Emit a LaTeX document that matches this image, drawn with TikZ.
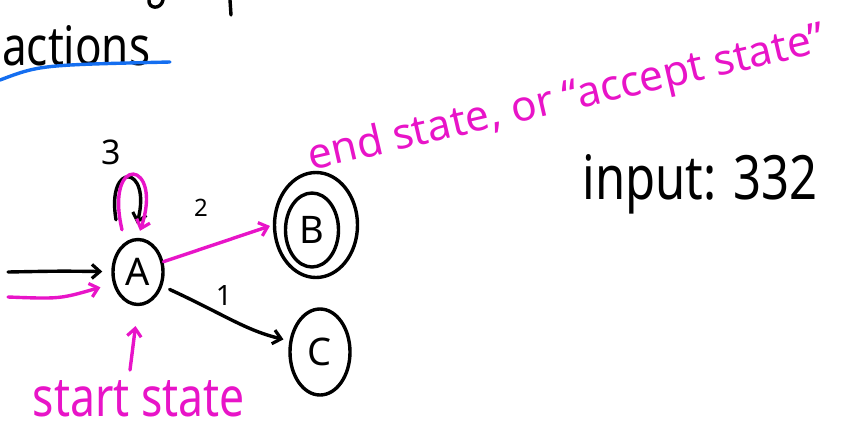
\documentclass[tikz,border=0pt]{standalone}
\usepackage{fontspec}
\setmainfont{Noto Sans}
\usetikzlibrary{shapes.geometric,arrows.meta}
\definecolor{mag}{RGB}{232,20,200}
\definecolor{ublue}{RGB}{20,110,240}
\begin{document}
\begin{tikzpicture}[x=1pt,y=-1pt,
  stroke/.style={line width=3.4pt,line cap=round,line join=round},
  state/.style={ellipse,draw,stroke,inner sep=0pt,font=\fontsize{38}{40}\selectfont},
  tip/.style={-{Straight Barb[length=8pt,width=14pt,line width=3.2pt]}},
  lbl/.style={inner sep=0pt,font=\fontsize{34}{36}\selectfont},
  txt/.style={inner sep=0pt}]
\useasboundingbox (0,0) rectangle (854,432);
% cut-off strokes at the top
\draw[stroke] (149,0) .. controls (148,9) and (161,10) .. (163,0);
\draw[stroke] (230,0) -- (231,15);
% title
\node[txt,anchor=west] (title) at (2,46) {\resizebox{148pt}{40pt}{actions}};
\draw[ublue,line width=3.4pt,line cap=round] (0,80) .. controls (40,65) .. (170,62);
% states
\node[state,minimum width=50pt,minimum height=65pt] (A) at (138,272) {A};
\node[state,minimum width=83pt,minimum height=105pt] (B) at (316,225) {};
\node[state,minimum width=53pt,minimum height=74pt] (Bin) at (312,230) {B};
\node[state,minimum width=60pt,minimum height=86pt] (C) at (320,352) {C};
% self loops
\draw[stroke,tip] ([shift={(-22,-18)}]A.north) .. controls (106,160) and (152,165) .. ([shift={(-1,-14)}]A.north);
\draw[stroke,mag,tip] ([shift={(-16,-8)}]A.north) .. controls (104,152) and (164,160) .. ([shift={(2,-7)}]A.north);
\node[lbl] (l3) at (111,152) {3};
% transitions
\draw[stroke,mag,tip,shorten >=3pt] (A.22) -- (B.west);
\node[lbl,font=\fontsize{24}{26}\selectfont] (l2) at (201,208) {2};
\draw[stroke,tip,shorten <=8pt,shorten >=6pt] (A.-30) .. controls (225,315) and (245,330) .. (C.160);
\node[lbl,font=\fontsize{28}{30}\selectfont] (l1) at (224,295) {1};
% incoming arrows
\coordinate (s1) at (8,272);
\coordinate (s2) at (8,297);
\draw[stroke,tip,shorten >=9pt] (s1) .. controls (60,271) .. (A);
\draw[stroke,mag,tip,shorten >=13pt] (s2) .. controls (60,299) .. (A.205);
% start state note
\coordinate (s3) at (130,370);
\draw[stroke,mag,tip,shorten >=20pt] (s3) -- (A.south);
\node[txt,mag] (start) at (139,399) {\resizebox{212pt}{36pt}{start state}};
% end state note
\node[txt,mag,rotate=13] (endn) at (567,100) {\resizebox{530pt}{!}{end state, or “accept state”}};
% input
\node[txt] (inp) at (700,184) {\resizebox{235pt}{45pt}{input: 332}};
\end{tikzpicture}
\end{document}
